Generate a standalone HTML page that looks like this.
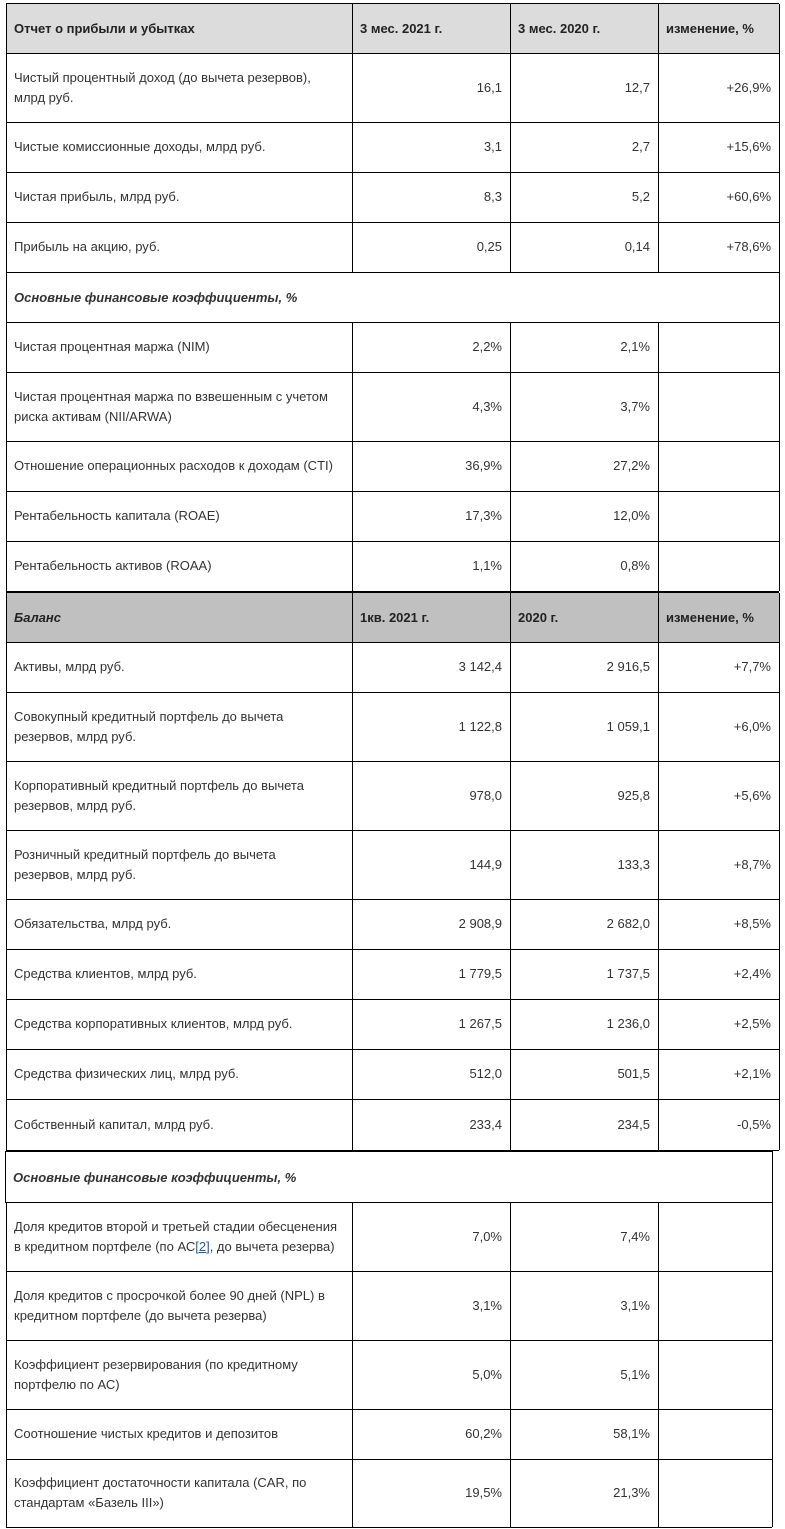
<!DOCTYPE html>
<html><head><meta charset="utf-8"><style>
body{margin:0;background:#fff;width:785px;height:1529px;position:relative;font-family:"Liberation Sans",Arial,sans-serif;font-size:13px;color:#333;overflow:hidden}
.r{position:absolute;left:6px;width:773px;display:grid;grid-template-columns:346px 158px 148px 121px;border-bottom:1px solid #000;border-left:1px solid #000;box-sizing:border-box}
.r>div{border-right:1px solid #000;display:flex;align-items:center;padding:0 8px 0 7px;line-height:20px;box-sizing:border-box}
.r>div.n{justify-content:flex-end}
.h1{background:#dcdcdc;font-weight:bold;color:#222}
.h2{background:#c0c0c0;font-weight:bold;color:#222}
.s{position:absolute;left:6px;border-left:1px solid #000;border-right:1px solid #000;border-bottom:1px solid #000;box-sizing:border-box;display:flex;align-items:center;padding-left:7px;font-style:italic;font-weight:bold;color:#333}
</style></head><body>
<div class="r h1" style="top:3px;height:51px;border-top:1px solid #000"><div>Отчет о прибыли и убытках</div><div>3 мес. 2021 г.</div><div>3 мес. 2020 г.</div><div>изменение, %</div></div>
<div class="r" style="top:53px;height:70px"><div>Чистый процентный доход (до вычета резервов),<br>млрд руб.</div><div class="n">16,1</div><div class="n">12,7</div><div class="n">+26,9%</div></div>
<div class="r" style="top:122px;height:51px"><div>Чистые комиссионные доходы, млрд руб.</div><div class="n">3,1</div><div class="n">2,7</div><div class="n">+15,6%</div></div>
<div class="r" style="top:172px;height:51px"><div>Чистая прибыль, млрд руб.</div><div class="n">8,3</div><div class="n">5,2</div><div class="n">+60,6%</div></div>
<div class="r" style="top:222px;height:51px"><div>Прибыль на акцию, руб.</div><div class="n">0,25</div><div class="n">0,14</div><div class="n">+78,6%</div></div>
<div class="s" style="top:272px;height:51px;width:774px">Основные финансовые коэффициенты, %</div>
<div class="r" style="top:322px;height:51px"><div>Чистая процентная маржа (NIM)</div><div class="n">2,2%</div><div class="n">2,1%</div><div></div></div>
<div class="r" style="top:372px;height:70px"><div>Чистая процентная маржа по взвешенным с учетом<br>риска активам (NII/ARWA)</div><div class="n">4,3%</div><div class="n">3,7%</div><div></div></div>
<div class="r" style="top:441px;height:51px"><div>Отношение операционных расходов к доходам (CTI)</div><div class="n">36,9%</div><div class="n">27,2%</div><div></div></div>
<div class="r" style="top:491px;height:51px"><div>Рентабельность капитала (ROAE)</div><div class="n">17,3%</div><div class="n">12,0%</div><div></div></div>
<div class="r" style="top:541px;height:51px"><div>Рентабельность активов (ROAA)</div><div class="n">1,1%</div><div class="n">0,8%</div><div></div></div>
<div class="r h2" style="top:591px;height:52px;border-top:2px solid #000"><div style="font-style:italic">Баланс</div><div>1кв. 2021 г.</div><div>2020 г.</div><div>изменение, %</div></div>
<div class="r" style="top:642px;height:51px"><div>Активы, млрд руб.</div><div class="n">3 142,4</div><div class="n">2 916,5</div><div class="n">+7,7%</div></div>
<div class="r" style="top:692px;height:70px"><div>Совокупный кредитный портфель до вычета<br>резервов, млрд руб.</div><div class="n">1 122,8</div><div class="n">1 059,1</div><div class="n">+6,0%</div></div>
<div class="r" style="top:761px;height:70px"><div>Корпоративный кредитный портфель до вычета<br>резервов, млрд руб.</div><div class="n">978,0</div><div class="n">925,8</div><div class="n">+5,6%</div></div>
<div class="r" style="top:830px;height:70px"><div>Розничный кредитный портфель до вычета<br>резервов, млрд руб.</div><div class="n">144,9</div><div class="n">133,3</div><div class="n">+8,7%</div></div>
<div class="r" style="top:899px;height:51px"><div>Обязательства, млрд руб.</div><div class="n">2 908,9</div><div class="n">2 682,0</div><div class="n">+8,5%</div></div>
<div class="r" style="top:949px;height:51px"><div>Средства клиентов, млрд руб.</div><div class="n">1 779,5</div><div class="n">1 737,5</div><div class="n">+2,4%</div></div>
<div class="r" style="top:999px;height:51px"><div>Средства корпоративных клиентов, млрд руб.</div><div class="n">1 267,5</div><div class="n">1 236,0</div><div class="n">+2,5%</div></div>
<div class="r" style="top:1049px;height:51px"><div>Средства физических лиц, млрд руб.</div><div class="n">512,0</div><div class="n">501,5</div><div class="n">+2,1%</div></div>
<div class="r" style="top:1099px;height:52px"><div>Собственный капитал, млрд руб.</div><div class="n">233,4</div><div class="n">234,5</div><div class="n">-0,5%</div></div>
<div class="s" style="top:1151px;height:52px;width:768px;border-top:1px solid #000;left:5px">Основные финансовые коэффициенты, %</div>
<div class="r" style="top:1202px;height:70px;width:766px;grid-template-columns:346px 158px 148px 114px"><div><span>Доля кредитов второй и третьей стадии обесценения<br>в кредитном портфеле (по АС<span style="color:#1a5fa8">[<u>2</u>]</span>, до вычета резерва)</span></div><div class="n">7,0%</div><div class="n">7,4%</div><div></div></div>
<div class="r" style="top:1271px;height:70px;width:766px;grid-template-columns:346px 158px 148px 114px"><div>Доля кредитов с просрочкой более 90 дней (NPL) в<br>кредитном портфеле (до вычета резерва)</div><div class="n">3,1%</div><div class="n">3,1%</div><div></div></div>
<div class="r" style="top:1340px;height:70px;width:766px;grid-template-columns:346px 158px 148px 114px"><div>Коэффициент резервирования (по кредитному<br>портфелю по АС)</div><div class="n">5,0%</div><div class="n">5,1%</div><div></div></div>
<div class="r" style="top:1409px;height:51px;width:766px;grid-template-columns:346px 158px 148px 114px"><div>Соотношение чистых кредитов и депозитов</div><div class="n">60,2%</div><div class="n">58,1%</div><div></div></div>
<div class="r" style="top:1459px;height:69px;width:766px;grid-template-columns:346px 158px 148px 114px"><div>Коэффициент достаточности капитала (CAR, по<br>стандартам «Базель III»)</div><div class="n">19,5%</div><div class="n">21,3%</div><div></div></div>
</body></html>
